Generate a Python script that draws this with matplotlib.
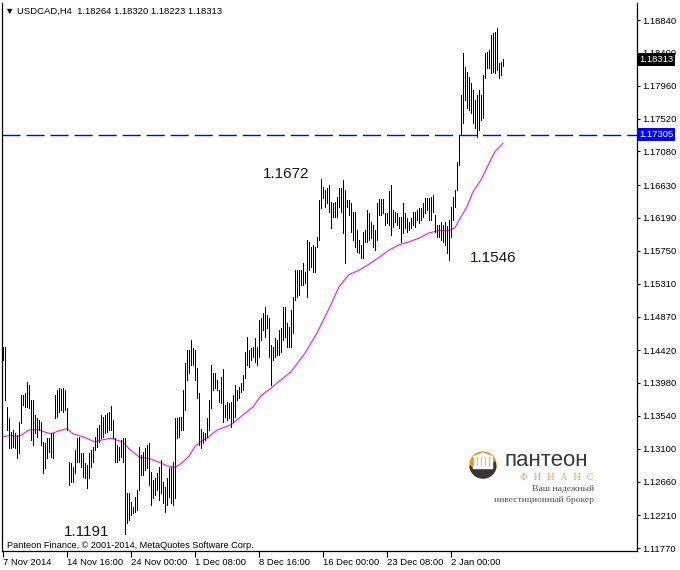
import math
import matplotlib
matplotlib.use('Agg')
import matplotlib.pyplot as plt
import matplotlib.transforms as mtransforms
from matplotlib.patches import Rectangle, Circle, Polygon

# USDCAD H4, 7 Nov 2014 .. 2 Jan 2015

highs = [
    1.1446, 1.1446, 1.1366, 1.1351, 1.1332, 1.1335, 1.1331, 1.1328, 1.1346, 1.1382,
    1.1382, 1.1385, 1.1399, 1.1395, 1.1375, 1.1375, 1.1355, 1.1351, 1.1348, 1.1346,
    1.1319, 1.1318, 1.1324, 1.1324, 1.1331, 1.1331, 1.1382, 1.1389, 1.1391, 1.1390,
    1.1391, 1.1389, 1.1365, 1.1292, 1.1291, 1.1286, 1.1308, 1.1324, 1.1326, 1.1304,
    1.1304, 1.1291, 1.1288, 1.1304, 1.1308, 1.1312, 1.1326, 1.1338, 1.1342, 1.1355,
    1.1352, 1.1355, 1.1358, 1.1359, 1.1367, 1.1348, 1.1324, 1.1315, 1.1312, 1.1322,
    1.1324, 1.1324, 1.1251, 1.1251, 1.1239, 1.1232, 1.1245, 1.1255, 1.1312, 1.1302,
    1.1306, 1.1311, 1.1315, 1.1318, 1.1279, 1.1268, 1.1271, 1.1277, 1.1286, 1.1295,
    1.1265, 1.1259, 1.1271, 1.1284, 1.1286, 1.1292, 1.1351, 1.1351, 1.1352, 1.1352,
    1.1389, 1.1425, 1.1442, 1.1442, 1.1456, 1.1445, 1.1442, 1.1418, 1.1385, 1.1336,
    1.1332, 1.1331, 1.1351, 1.1375, 1.1422, 1.1411, 1.1411, 1.1402, 1.1389, 1.1406,
    1.1417, 1.1369, 1.1373, 1.1371, 1.1373, 1.1382, 1.1395, 1.1389, 1.1393, 1.1398,
    1.1409, 1.1440, 1.1460, 1.1442, 1.1445, 1.1446, 1.1458, 1.1446, 1.1482, 1.1485,
    1.1492, 1.1500, 1.1489, 1.1485, 1.1449, 1.1446, 1.1458, 1.1456, 1.1469, 1.1472,
    1.1500, 1.1500, 1.1478, 1.1473, 1.1496, 1.1513, 1.1549, 1.1549, 1.1549, 1.1549,
    1.1559, 1.1547, 1.1589, 1.1587, 1.1580, 1.1583, 1.1580, 1.1593, 1.1643, 1.1671,
    1.1661, 1.1656, 1.1659, 1.1663, 1.1640, 1.1639, 1.1640, 1.1647, 1.1659, 1.1659,
    1.1670, 1.1656, 1.1643, 1.1643, 1.1639, 1.1627, 1.1627, 1.1603, 1.1589, 1.1583,
    1.1600, 1.1603, 1.1630, 1.1626, 1.1614, 1.1610, 1.1603, 1.1639, 1.1644, 1.1644,
    1.1644, 1.1626, 1.1626, 1.1655, 1.1663, 1.1630, 1.1627, 1.1626, 1.1620, 1.1620,
    1.1639, 1.1626, 1.1619, 1.1614, 1.1619, 1.1627, 1.1627, 1.1630, 1.1632, 1.1632,
    1.1639, 1.1646, 1.1646, 1.1646, 1.1647, 1.1650, 1.1623, 1.1610, 1.1610, 1.1613,
    1.1610, 1.1614, 1.1608, 1.1616, 1.1634, 1.1647, 1.1656, 1.1694, 1.1730, 1.1784,
    1.1840, 1.1821, 1.1814, 1.1808, 1.1800, 1.1790, 1.1777, 1.1784, 1.1790, 1.1784,
    1.1810, 1.1840, 1.1841, 1.1844, 1.1864, 1.1867, 1.1868, 1.1873, 1.1826, 1.1828,
    1.18320,
]

lows = [
    1.1429, 1.1375, 1.1335, 1.1311, 1.1311, 1.1312, 1.1311, 1.1298, 1.1304, 1.1344,
    1.1369, 1.1366, 1.1366, 1.1365, 1.1322, 1.1315, 1.1331, 1.1326, 1.1335, 1.1315,
    1.1277, 1.1284, 1.1298, 1.1306, 1.1299, 1.1298, 1.1351, 1.1352, 1.1359, 1.1362,
    1.1359, 1.1362, 1.1335, 1.1261, 1.1265, 1.1265, 1.1277, 1.1292, 1.1292, 1.1286,
    1.1272, 1.1271, 1.1257, 1.1271, 1.1286, 1.1292, 1.1308, 1.1312, 1.1319, 1.1324,
    1.1326, 1.1331, 1.1332, 1.1335, 1.1335, 1.1324, 1.1292, 1.1292, 1.1295, 1.1299,
    1.1292, 1.1196, 1.1211, 1.1215, 1.1221, 1.1224, 1.1225, 1.1228, 1.1255, 1.1275,
    1.1275, 1.1282, 1.1284, 1.1261, 1.1235, 1.1244, 1.1248, 1.1255, 1.1241, 1.1251,
    1.1237, 1.1225, 1.1235, 1.1245, 1.1237, 1.1235, 1.1244, 1.1324, 1.1326, 1.1335,
    1.1335, 1.1362, 1.1402, 1.1411, 1.1422, 1.1422, 1.1402, 1.1378, 1.1315, 1.1311,
    1.1318, 1.1322, 1.1326, 1.1335, 1.1365, 1.1389, 1.1391, 1.1389, 1.1373, 1.1371,
    1.1346, 1.1352, 1.1348, 1.1351, 1.1339, 1.1346, 1.1352, 1.1375, 1.1378, 1.1386,
    1.1389, 1.1405, 1.1422, 1.1419, 1.1429, 1.1433, 1.1426, 1.1422, 1.1433, 1.1456,
    1.1469, 1.1460, 1.1472, 1.1433, 1.1395, 1.1429, 1.1433, 1.1435, 1.1435, 1.1440,
    1.1456, 1.1460, 1.1446, 1.1446, 1.1446, 1.1465, 1.1509, 1.1513, 1.1516, 1.1529,
    1.1529, 1.1532, 1.1513, 1.1549, 1.1553, 1.1547, 1.1547, 1.1580, 1.1589, 1.1632,
    1.1646, 1.1634, 1.1639, 1.1627, 1.1606, 1.1620, 1.1620, 1.1620, 1.1634, 1.1627,
    1.1599, 1.1559, 1.1634, 1.1623, 1.1600, 1.1589, 1.1580, 1.1573, 1.1572, 1.1565,
    1.1565, 1.1587, 1.1587, 1.1589, 1.1592, 1.1580, 1.1576, 1.1589, 1.1623, 1.1623,
    1.1626, 1.1610, 1.1612, 1.1610, 1.1596, 1.1607, 1.1614, 1.1610, 1.1606, 1.1587,
    1.1599, 1.1606, 1.1600, 1.1603, 1.1606, 1.1610, 1.1607, 1.1616, 1.1612, 1.1616,
    1.1620, 1.1626, 1.1630, 1.1616, 1.1616, 1.1627, 1.1600, 1.1593, 1.1593, 1.1589,
    1.1587, 1.1583, 1.1572, 1.1563, 1.1593, 1.1616, 1.1634, 1.1656, 1.1690, 1.1730,
    1.1746, 1.1777, 1.1766, 1.1763, 1.1760, 1.1746, 1.1740, 1.1727, 1.1737, 1.1750,
    1.1753, 1.1806, 1.1820, 1.1820, 1.1813, 1.1814, 1.1813, 1.1817, 1.1806, 1.1810,
    1.18223,
]

# moving average (magenta), sampled along the bars
ma_bar = [0, 4, 7, 9, 13, 18, 20, 24, 28, 32, 35, 40, 46, 48, 54, 60, 63, 68, 73, 78,
          82, 86, 89, 93, 96, 99, 102, 107, 114, 118, 125, 129, 134, 138, 144, 151, 157,
          164, 168, 173, 178, 183, 188, 193, 198, 203, 208, 213, 218, 223, 226, 228,
          232, 235, 239, 243, 246, 250]
ma_val = [1.1326, 1.1328, 1.1326, 1.1328, 1.1335, 1.1336, 1.1333, 1.1330, 1.1334, 1.1337,
          1.1330, 1.1326, 1.1319, 1.1321, 1.1324, 1.1319, 1.1310, 1.1299, 1.1297, 1.1292,
          1.1287, 1.1285, 1.1290, 1.1300, 1.1313, 1.1320, 1.1324, 1.1335, 1.1342, 1.1351,
          1.1366, 1.1381, 1.1391, 1.1400, 1.1413, 1.1438, 1.1465, 1.1503, 1.1527, 1.1543,
          1.1549, 1.1557, 1.1566, 1.1576, 1.1583, 1.1587, 1.1592, 1.1599, 1.1602, 1.1602,
          1.1606, 1.1616, 1.1634, 1.1654, 1.1670, 1.1692, 1.1708, 1.1719]

level = 1.17305
last_close = 1.18313

y_ticks = [1.18840, 1.18400, 1.17960, 1.17520, 1.17080, 1.16630, 1.16190, 1.15750,
           1.15310, 1.14870, 1.14420, 1.13980, 1.13540, 1.13100, 1.12660, 1.12210, 1.11770]
x_tick_bars = [0, 32, 64, 96, 128, 160, 192, 224]
x_tick_labels = ['7 Nov 2014', '14 Nov 16:00', '24 Nov 00:00', '1 Dec 08:00',
                 '8 Dec 16:00', '16 Dec 00:00', '23 Dec 08:00', '2 Jan 00:00']

plt.rcParams['font.family'] = ['Liberation Sans', 'DejaVu Sans']

fig = plt.figure(figsize=(6.8, 5.7), dpi=100)
ax = fig.add_axes([2 / 680, 19 / 570, 635 / 680, 548 / 570])

idx = list(range(len(highs)))
ax.vlines(idx, lows, highs, color='black', lw=0.7, antialiased=False, zorder=3)
ax.plot(ma_bar, ma_val, color='#FF00FF', lw=0.75, zorder=2)
ax.axhline(level, color='#0000FF', lw=1.0, dashes=(13, 4.3), zorder=2)

ax.set_xlim(-0.5, 317)
ax.set_ylim(1.11730, 1.19068)

ax.yaxis.tick_right()
ax.set_yticks(y_ticks)
ax.set_yticklabels(['%.5f' % v for v in y_ticks])
ax.set_xticks(x_tick_bars)
ax.set_xticklabels(x_tick_labels)
for lab in ax.get_xticklabels():
    lab.set_horizontalalignment('left')
ax.tick_params(axis='y', direction='out', length=2.5, width=0.8, pad=1.5, labelsize=6.8)
ax.tick_params(axis='x', direction='out', length=4, width=0.8, pad=1, labelsize=6.8)
ax.spines['top'].set_visible(False)
for s in ['left', 'right', 'bottom']:
    ax.spines[s].set_linewidth(0.9)

# price boxes on the scale
blend = mtransforms.blended_transform_factory(ax.transAxes, ax.transData)
ax.text(1.003, last_close, '%.5f' % last_close, transform=blend, color='white',
        fontsize=6.8, va='center', ha='left', clip_on=False, zorder=10,
        bbox=dict(facecolor='black', edgecolor='none', pad=1.2))
ax.text(1.003, level, '%.5f' % level, transform=blend, color='white',
        fontsize=6.8, va='center', ha='left', clip_on=False, zorder=10,
        bbox=dict(facecolor='#0000FF', edgecolor='none', pad=1.2))

# level labels
ax.text(130, 1.1678, '1.1672', fontsize=11, color='#141432', va='center', ha='left')
ax.text(233.5, 1.1565, '1.1546', fontsize=11, color='#141432', va='center', ha='left')
ax.text(30.5, 1.1198, '1.1191', fontsize=11, color='#141432', va='center', ha='left')

# header and copyright
fig.text(5 / 680, 1 - 11 / 570, '▼ USDCAD,H4  1.18264 1.18320 1.18223 1.18313',
         fontsize=6.8, va='center', ha='left')
fig.text(7 / 680, 1 - 545 / 570, 'Panteon Finance, © 2001-2014, MetaQuotes Software Corp.',
         fontsize=6.6, va='center', ha='left')

# logo overlay in pixel coordinates
ov = fig.add_axes([0, 0, 1, 1], facecolor='none')
ov.set_xlim(0, 680)
ov.set_ylim(570, 0)
ov.axis('off')
cx, cy, r = 483, 465, 13
ov.add_patch(Circle((cx, cy), r, color='#EE8F25'))
# dark swoosh over the lower part of the badge
arc = [(cx + r * math.cos(math.radians(a)), cy + r * math.sin(math.radians(a)))
       for a in range(10, 176, 5)]
swoosh = arc + [(cx - 9, cy + 5), (cx - 2, cy + 4), (cx + 6, cy + 1), (cx + 12, cy - 3)]
ov.add_patch(Polygon(swoosh, closed=True, color='#353535'))
ov.add_patch(Polygon([(cx - 10, cy - 8), (cx, cy - 12), (cx + 10, cy - 8)],
                     closed=True, color='white'))
for px in [cx - 9, cx - 5, cx - 1, cx + 3, cx + 7]:
    ov.add_patch(Rectangle((px, cy - 7), 1.8, 8, color='white'))
ov.add_patch(Rectangle((cx - 10, cy + 1), 19, 1.5, color='white'))
ov.text(504, 461, 'пантеон', fontsize=16, color='#3A3A3A', va='center', ha='left')
ov.text(594, 477, 'Ф  И  Н  А  Н  С', fontsize=6.5, color='#F0A050', va='center',
        ha='right', family=['DejaVu Serif'])
ov.text(594, 489, 'Ваш надежный', fontsize=6.8, color='#505050', va='center', ha='right',
        family=['Liberation Serif', 'DejaVu Serif'])
ov.text(594, 500, 'инвестиционный брокер', fontsize=6.8, color='#505050', va='center',
        ha='right', family=['Liberation Serif', 'DejaVu Serif'])

fig.savefig('out.png', dpi=100)
